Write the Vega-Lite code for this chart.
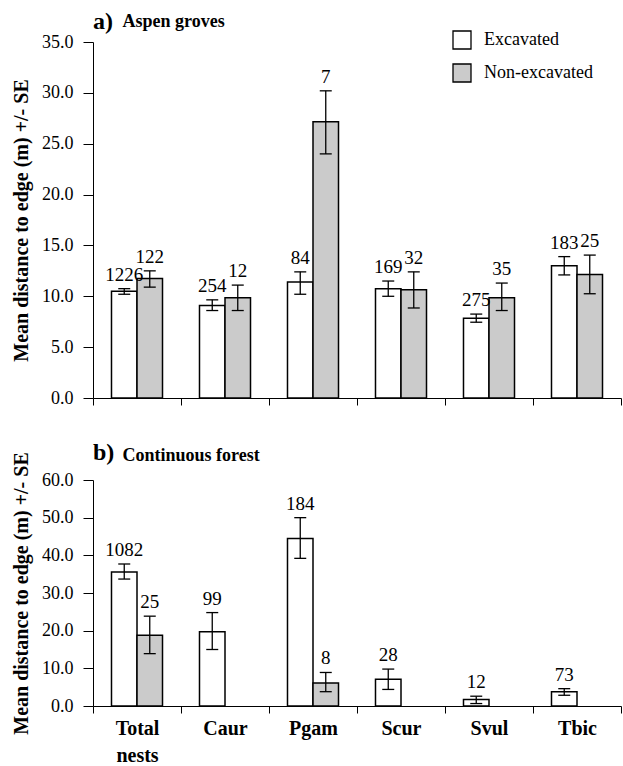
{
  "$schema": "https://vega.github.io/schema/vega-lite/v6.json",
  "padding": {"left": 11, "top": 10, "right": 0, "bottom": 0},
  "background": "white",
  "datasets": {
    "aspen": [
      {"species": "Total nests", "nest": "Excavated", "mean": 10.5, "lo": 10.2, "hi": 10.75, "n": "1226"},
      {"species": "Total nests", "nest": "Non-excavated", "mean": 11.75, "lo": 10.9, "hi": 12.5, "n": "122"},
      {"species": "Caur", "nest": "Excavated", "mean": 9.1, "lo": 8.6, "hi": 9.65, "n": "254"},
      {"species": "Caur", "nest": "Non-excavated", "mean": 9.85, "lo": 8.6, "hi": 11.1, "n": "12"},
      {"species": "Pgam", "nest": "Excavated", "mean": 11.4, "lo": 10.2, "hi": 12.4, "n": "84"},
      {"species": "Pgam", "nest": "Non-excavated", "mean": 27.15, "lo": 24.0, "hi": 30.2, "n": "7"},
      {"species": "Scur", "nest": "Excavated", "mean": 10.75, "lo": 10.0, "hi": 11.5, "n": "169"},
      {"species": "Scur", "nest": "Non-excavated", "mean": 10.65, "lo": 8.85, "hi": 12.4, "n": "32"},
      {"species": "Svul", "nest": "Excavated", "mean": 7.85, "lo": 7.45, "hi": 8.25, "n": "275"},
      {"species": "Svul", "nest": "Non-excavated", "mean": 9.85, "lo": 8.6, "hi": 11.3, "n": "35"},
      {"species": "Tbic", "nest": "Excavated", "mean": 13.0, "lo": 12.1, "hi": 13.9, "n": "183"},
      {"species": "Tbic", "nest": "Non-excavated", "mean": 12.15, "lo": 10.25, "hi": 14.05, "n": "25"}
    ],
    "forest": [
      {"species": "Total nests", "nest": "Excavated", "mean": 35.6, "lo": 33.7, "hi": 37.7, "n": "1082"},
      {"species": "Total nests", "nest": "Non-excavated", "mean": 18.8, "lo": 13.9, "hi": 23.85, "n": "25"},
      {"species": "Caur", "nest": "Excavated", "mean": 19.7, "lo": 15.0, "hi": 24.8, "n": "99"},
      {"species": "Pgam", "nest": "Excavated", "mean": 44.5, "lo": 39.2, "hi": 50.0, "n": "184"},
      {"species": "Pgam", "nest": "Non-excavated", "mean": 6.1, "lo": 3.8, "hi": 8.9, "n": "8"},
      {"species": "Scur", "nest": "Excavated", "mean": 7.1, "lo": 4.4, "hi": 9.8, "n": "28"},
      {"species": "Svul", "nest": "Excavated", "mean": 1.7, "lo": 0.65, "hi": 2.6, "n": "12"},
      {"species": "Tbic", "nest": "Excavated", "mean": 3.8, "lo": 2.85, "hi": 4.6, "n": "73"}
    ]
  },
  "spacing": 34,
  "resolve": {"legend": {"fill": "independent"}, "scale": {"fill": "independent", "y": "independent"}},
  "vconcat": [
    {
      "title": {"text": "a)", "offset": -22},
      "width": 528,
      "height": 356,
      "data": {"name": "aspen"},
      "resolve": {"axis": {"x": "independent"}},
      "encoding": {
        "x": {"field": "species", "type": "nominal", "sort": null,
              "scale": {"domain": ["Total nests", "Caur", "Pgam", "Scur", "Svul", "Tbic"], "paddingInner": 0, "paddingOuter": 0},
              "axis": null},
        "xOffset": {"field": "nest", "type": "nominal",
                    "scale": {"domain": ["Excavated", "Non-excavated"], "paddingInner": 0, "paddingOuter": 0.725}}
      },
      "layer": [
        {
          "mark": {"type": "bar", "stroke": "black", "strokeWidth": 1.5},
          "encoding": {
            "x": {"field": "species", "type": "nominal", "sort": null,
                  "scale": {"domain": ["Total nests", "Caur", "Pgam", "Scur", "Svul", "Tbic"], "paddingInner": 0, "paddingOuter": 0},
                  "axis": {"labels": false, "title": null}},
            "y": {"field": "mean", "type": "quantitative",
                  "scale": {"domain": [0, 35]},
                  "axis": {"title": "Mean distance to edge (m) +/- SE", "values": [0, 5, 10, 15, 20, 25, 30, 35], "labelOverlap": false}},
            "fill": {"field": "nest", "type": "nominal",
                     "scale": {"domain": ["Excavated", "Non-excavated"], "range": ["white", "#cbcbcb"]},
                     "legend": {"title": null, "orient": "none", "legendX": 359, "legendY": -12, "padding": 0,
                                "symbolType": "square", "symbolSize": 324, "symbolStrokeColor": "black", "symbolStrokeWidth": 1.3,
                                "symbolOpacity": 1, "labelFontSize": 18, "labelFont": "Liberation Serif", "labelColor": "black",
                                "labelOffset": 12, "rowPadding": 9}}
          }
        },
        {
          "mark": {"type": "rule", "color": "black", "strokeWidth": 1.3},
          "encoding": {"y": {"field": "lo", "type": "quantitative"}, "y2": {"field": "hi"}}
        },
        {
          "mark": {"type": "tick", "color": "black", "thickness": 1.3, "size": 12, "opacity": 1},
          "encoding": {"y": {"field": "lo", "type": "quantitative"}}
        },
        {
          "mark": {"type": "tick", "color": "black", "thickness": 1.3, "size": 12, "opacity": 1},
          "encoding": {"y": {"field": "hi", "type": "quantitative"}}
        },
        {
          "mark": {"type": "text", "dy": -8, "baseline": "alphabetic", "fontSize": 19, "color": "black", "font": "Liberation Serif"},
          "encoding": {
            "x": {"field": "species", "type": "nominal", "sort": null,
                  "scale": {"domain": ["Total nests", "Caur", "Pgam", "Scur", "Svul", "Tbic"], "paddingInner": 0, "paddingOuter": 0},
                  "axis": {"orient": "top", "domain": false, "ticks": false, "labels": false, "title": "Aspen groves",
                           "titleFontSize": 18, "titleFontWeight": "bold", "titleColor": "black", "titleFont": "Liberation Serif",
                           "titleAlign": "left", "titleAnchor": "start", "titleX": 29, "titleY": -16, "titleBaseline": "alphabetic", "titlePadding": 0}},
            "y": {"field": "hi", "type": "quantitative"}, "text": {"field": "n"}}
        }
      ]
    },
    {
      "title": {"text": "b)", "offset": -19},
      "width": 528,
      "height": 226,
      "data": {"name": "forest"},
      "resolve": {"axis": {"x": "independent"}},
      "encoding": {
        "x": {"field": "species", "type": "nominal", "sort": null,
              "scale": {"domain": ["Total nests", "Caur", "Pgam", "Scur", "Svul", "Tbic"], "paddingInner": 0, "paddingOuter": 0},
              "axis": null},
        "xOffset": {"field": "nest", "type": "nominal",
                    "scale": {"domain": ["Excavated", "Non-excavated"], "paddingInner": 0, "paddingOuter": 0.725}}
      },
      "layer": [
        {
          "mark": {"type": "bar", "stroke": "black", "strokeWidth": 1.5},
          "encoding": {
            "x": {"field": "species", "type": "nominal", "sort": null,
                  "scale": {"domain": ["Total nests", "Caur", "Pgam", "Scur", "Svul", "Tbic"], "paddingInner": 0, "paddingOuter": 0},
                  "axis": {"title": null, "labelExpr": "split(datum.label, ' ')", "labelLineHeight": 27, "labelPadding": 5, "labelBaseline": "top"}},
            "y": {"field": "mean", "type": "quantitative",
                  "scale": {"domain": [0, 60]},
                  "axis": {"title": "Mean distance to edge (m) +/- SE", "values": [0, 10, 20, 30, 40, 50, 60], "labelOverlap": false, "tickCount": 7}},
            "fill": {"field": "nest", "type": "nominal",
                     "scale": {"domain": ["Excavated", "Non-excavated"], "range": ["white", "#cbcbcb"]},
                     "legend": null}
          }
        },
        {
          "mark": {"type": "rule", "color": "black", "strokeWidth": 1.3},
          "encoding": {"y": {"field": "lo", "type": "quantitative"}, "y2": {"field": "hi"}}
        },
        {
          "mark": {"type": "tick", "color": "black", "thickness": 1.3, "size": 12, "opacity": 1},
          "encoding": {"y": {"field": "lo", "type": "quantitative"}}
        },
        {
          "mark": {"type": "tick", "color": "black", "thickness": 1.3, "size": 12, "opacity": 1},
          "encoding": {"y": {"field": "hi", "type": "quantitative"}}
        },
        {
          "mark": {"type": "text", "dy": -8, "baseline": "alphabetic", "fontSize": 19, "color": "black", "font": "Liberation Serif"},
          "encoding": {
            "x": {"field": "species", "type": "nominal", "sort": null,
                  "scale": {"domain": ["Total nests", "Caur", "Pgam", "Scur", "Svul", "Tbic"], "paddingInner": 0, "paddingOuter": 0},
                  "axis": {"orient": "top", "domain": false, "ticks": false, "labels": false, "title": "Continuous forest",
                           "titleFontSize": 18, "titleFontWeight": "bold", "titleColor": "black", "titleFont": "Liberation Serif",
                           "titleAlign": "left", "titleAnchor": "start", "titleX": 29, "titleY": -20, "titleBaseline": "alphabetic", "titlePadding": 0}},
            "y": {"field": "hi", "type": "quantitative"}, "text": {"field": "n"}}
        }
      ]
    }
  ],
  "config": {
    "font": "Liberation Serif",
    "view": {"stroke": null},
    "axis": {"grid": false, "domainColor": "black", "tickColor": "black", "labelColor": "black", "titleColor": "black",
             "labelFont": "Liberation Serif", "titleFont": "Liberation Serif", "domainWidth": 1, "tickWidth": 1},
    "axisY": {"labelFontSize": 18, "tickSize": 10, "labelPadding": 10, "format": ".1f", "titleFontSize": 20,
              "titleFontWeight": "bold", "titlePadding": 10, "labelOverlap": false},
    "axisX": {"tickSize": 7, "labelFontSize": 20, "labelFontWeight": "bold", "tickBand": "extent", "labelAngle": 0},
    "title": {"font": "Liberation Serif", "fontWeight": "bold", "fontSize": 24, "color": "black", "anchor": "start", "frame": "group"}
  }
}
